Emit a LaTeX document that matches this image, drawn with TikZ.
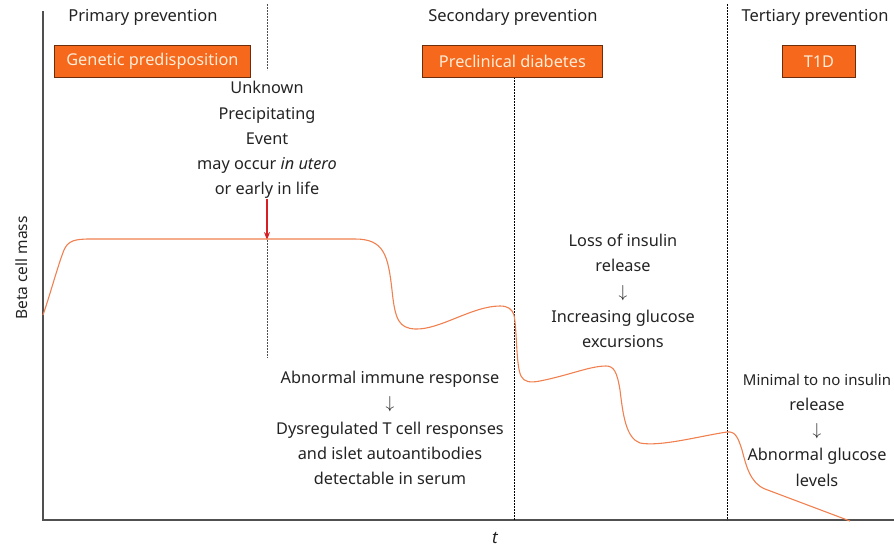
\documentclass[tikz,border=0pt]{standalone}
\usepackage{fontspec}
\setmainfont{Noto Sans}
\usetikzlibrary{arrows.meta}
\definecolor{boxorange}{RGB}{246,104,28}
\definecolor{boxedge}{RGB}{110,45,10}
\definecolor{boxtext}{RGB}{255,236,214}
\definecolor{curvecol}{RGB}{240,128,80}
\definecolor{txt}{RGB}{35,35,35}
\definecolor{axiscol}{RGB}{80,80,80}
\definecolor{eventred}{RGB}{215,30,35}
\begin{document}
\begin{tikzpicture}[x=1pt,y=-1pt,
  phase/.style={text=txt,font=\fontsize{16.5}{20}\selectfont},
  stagebox/.style={draw=boxedge,line width=0.8pt,fill=boxorange,text=boxtext,
    font=\fontsize{16.3}{18}\selectfont,inner sep=0pt,anchor=north west},
  boxlabel/.style={text=boxtext,font=\fontsize{16.3}{18}\selectfont},
  note/.style={text=txt,align=center,font=\fontsize{16.3}{25.2}\selectfont},
  divider/.style={black,line width=0.7pt,dash pattern=on 2pt off 1pt},
  axisline/.style={axiscol,line width=1.4pt},
  curve/.style={curvecol,line width=1.1pt}]
\useasboundingbox (0,0) rectangle (894,547);

% axes
\coordinate (origin) at (43,520);
\coordinate (ytop) at (43,11);
\coordinate (xend) at (894,520);
\draw[axisline] (ytop) -- (origin) -- (xend);
\node[rotate=90,text=txt,font=\fontsize{15.5}{18}\selectfont] (ylab) at (22,268) {Beta cell mass};
\node[text=txt,font=\fontsize{17}{20}\selectfont\itshape] (xlab) at (495,538) {t};

% phase dividers
\coordinate (d1a) at (267,4);   \coordinate (d1b) at (267,70);
\coordinate (d1c) at (267,240); \coordinate (d1d) at (267,358);
\coordinate (d2a) at (514,77);  \coordinate (d2b) at (514,520);
\coordinate (d3a) at (727,4);   \coordinate (d3b) at (727,520);
\draw[divider,axiscol,line width=0.9pt] (d1a) -- (d1b);
\draw[divider,axiscol,line width=0.9pt] (d1c) -- (d1d);
\draw[divider] (d2a) -- (d2b);
\draw[divider] (d3a) -- (d3b);

% phase titles
\node[phase] (prim) at (143,17) {Primary prevention};
\node[phase] (sec) at (513,17) {Secondary prevention};
\node[phase] (ter) at (815,17) {Tertiary prevention};

% stage boxes
\node[stagebox,minimum width=196pt,minimum height=32pt] (gen) at (54,45) {};
\node[boxlabel] at (gen.center) {Genetic predisposition};
\node[stagebox,minimum width=180pt,minimum height=32pt] (pre) at (422,45) {};
\node[boxlabel] at (pre.center) {Preclinical diabetes};
\node[stagebox,minimum width=73pt,minimum height=32pt] (tid) at (782,45) {};
\node[boxlabel] at (tid.center) {T1D};

% annotations
\node[note] (event) at (267,140) {Unknown\\Precipitating\\Event\\may occur \textit{in utero}\\or early in life};
\node[note] (immune) at (390,428) {Abnormal immune response\\$\downarrow$\\Dysregulated T cell responses\\and islet autoantibodies\\detectable in serum};
\node[note] (loss) at (623,291) {Loss of insulin\\release\\$\downarrow$\\Increasing glucose\\excursions};
\node[note] (minimal) at (817,430) {{\fontsize{15}{25.2}\selectfont Minimal to no insulin}\\release\\$\downarrow$\\Abnormal glucose\\levels};

% precipitating event marker
\coordinate (evtop) at (267,199);
\coordinate (evtip) at (267,240);
\draw[eventred,line width=1.2pt,-{Stealth[length=8pt,width=6pt]}] (evtop) -- (evtip);

% beta cell mass over time
\draw[curve] (43,315) .. controls (50,295) and (58,265) .. (64,250)
  .. controls (68,241) and (74,239) .. (90,239) -- (355,239)
  .. controls (384,239) and (388,255) .. (392,290)
  .. controls (395,320) and (399,328) .. (415,329)
  .. controls (440,330) and (472,306) .. (500,306)
  .. controls (508,306) and (512,309) .. (514,315)
  .. controls (517,330) and (516,366) .. (521,376)
  .. controls (524,382) and (530,383) .. (540,381)
  .. controls (570,375) and (590,366) .. (606,366)
  .. controls (614,366) and (617,372) .. (620,390)
  .. controls (623,415) and (626,438) .. (640,443)
  .. controls (660,447) and (700,436) .. (727,432)
  .. controls (735,431) and (738,437) .. (742,450)
  .. controls (746,465) and (750,483) .. (765,489)
  -- (850,521);
\end{tikzpicture}
\end{document}
